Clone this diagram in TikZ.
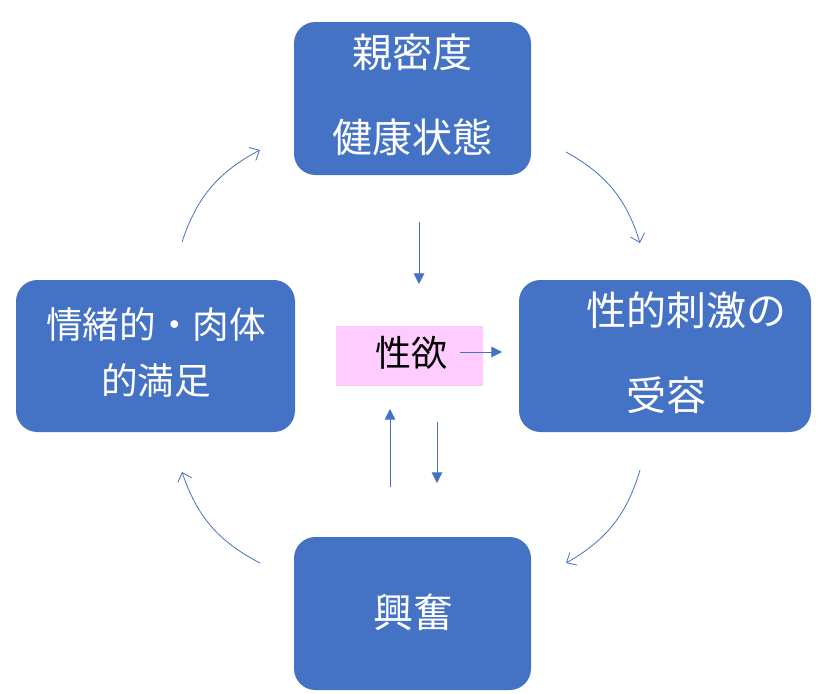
\documentclass[tikz,border=0pt]{standalone}
\usepackage{fontspec}
\setmainfont{Noto Sans CJK JP}
\usetikzlibrary{arrows.meta}
\definecolor{boxblue}{HTML}{4472C4}
\definecolor{pinkbg}{HTML}{FFCCFF}
\tikzset{
  box/.style={fill=boxblue, draw=none, rounded corners=16pt, inner sep=0pt},
  boxtext/.style={text=white, font=\fontsize{30}{36}\selectfont, inner sep=0pt},
  cyc/.style={draw=boxblue, line width=0.6pt, -{Straight Barb[length=6pt,width=11pt,line width=0.6pt]}, bend left=22},
  flow/.style={draw=boxblue, line width=0.75pt, -{Triangle[length=8pt,width=8pt]}}
}
\begin{document}
\begin{tikzpicture}[x=0.75pt,y=-0.75pt]
\useasboundingbox (0,0) rectangle (832,693);
% boxes
\node[box, minimum width=177.75pt, minimum height=114.75pt] (top) at (412.5,98.5) {};
\node[box, minimum width=209.25pt, minimum height=114pt] (left) at (155.5,356) {};
\node[box, minimum width=219pt, minimum height=114pt] (right) at (665,356) {};
\node[box, minimum width=177.75pt, minimum height=114.75pt] (bottom) at (412.5,613.5) {};
\node[fill=pinkbg, minimum width=110.25pt, minimum height=45pt, inner sep=0pt] (center) at (409.5,356) {};
% texts
\node[boxtext] (t1) at (412,52) {親密度};
\node[boxtext] (t2) at (412,137) {健康状態};
\node[boxtext, font=\fontsize{27.5}{33}\selectfont] (l1) at (156,325) {情緒的・肉体};
\node[boxtext, font=\fontsize{27.5}{33}\selectfont] (l2) at (156,380) {的満足};
\node[boxtext] (r1) at (686,310) {性的刺激の};
\node[boxtext] (r2) at (666,395) {受容};
\node[boxtext] (b1) at (413,612) {興奮};
\node[text=black, font=\fontsize{27}{32}\selectfont, inner sep=0pt] (c1) at (411,353) {性欲};
% cycle arrows
\coordinate (a1s) at (182,242); \coordinate (a1e) at (260,150);
\coordinate (a2s) at (566,152); \coordinate (a2e) at (640,243);
\coordinate (a3s) at (640,470); \coordinate (a3e) at (566,563);
\coordinate (a4s) at (260,563); \coordinate (a4e) at (182,472);
\draw[cyc] (a1s) to (a1e);
\draw[cyc] (a2s) to (a2e);
\draw[cyc] (a3s) to (a3e);
\draw[cyc] (a4s) to (a4e);
% straight arrows
\coordinate (s1s) at (419,222); \coordinate (s1e) at (419,284);
\coordinate (s2s) at (460,352); \coordinate (s2e) at (502,352);
\coordinate (s3s) at (390,487); \coordinate (s3e) at (390,409);
\coordinate (s4s) at (437,422); \coordinate (s4e) at (437,483);
\draw[flow] (s1s) -- (s1e);
\draw[flow] (s2s) -- (s2e);
\draw[flow] (s3s) -- (s3e);
\draw[flow] (s4s) -- (s4e);
\end{tikzpicture}
\end{document}
